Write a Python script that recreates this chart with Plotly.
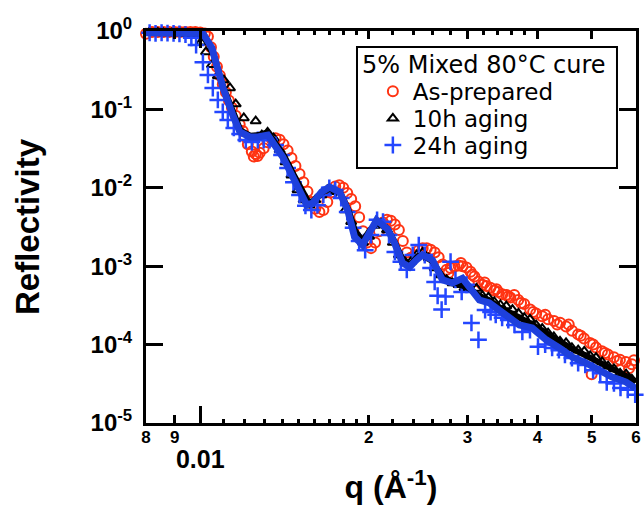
import math
import plotly.graph_objects as go

# ---------------- data ----------------
q_red = [0.0080, 0.0082, 0.0084, 0.0086, 0.0088, 0.0090, 0.0092, 0.0094, 0.0096, 0.0098, 0.0100,
         0.01019, 0.01032, 0.01045, 0.01057, 0.01071, 0.01084, 0.01097, 0.01111, 0.01125, 0.01139,
         0.01157, 0.01176, 0.01191, 0.01201, 0.01216, 0.01236, 0.01256, 0.01277, 0.01298, 0.01319,
         0.01341, 0.01363, 0.01386, 0.01408, 0.01432, 0.01455, 0.01479, 0.01504, 0.01528, 0.01554,
         0.01579, 0.01605, 0.01632, 0.01659, 0.01686, 0.01714, 0.01742, 0.01771, 0.01800, 0.01830,
         0.01860, 0.01891, 0.01922, 0.01953, 0.01986, 0.02018, 0.02052, 0.02085, 0.02120, 0.02155,
         0.02190, 0.02226, 0.02263, 0.02300, 0.02338, 0.02377, 0.02416, 0.02456, 0.02496, 0.02538,
         0.02579, 0.02622, 0.02665, 0.02709, 0.02754, 0.02799, 0.02845, 0.02892, 0.02940, 0.02988,
         0.03038, 0.03088, 0.03139, 0.03191, 0.03243, 0.03297, 0.03351, 0.03406, 0.03462, 0.03520,
         0.03578, 0.03637, 0.03697, 0.03789, 0.03883, 0.03980, 0.04079, 0.04180, 0.04284, 0.04391,
         0.04501, 0.04613, 0.04728, 0.04845, 0.04966, 0.05090, 0.05216, 0.05346, 0.05479, 0.05616,
         0.05756, 0.05899,
         0.01246, 0.01266, 0.02775, 0.0292, 0.0306, 0.0322, 0.0338, 0.0355, 0.0374, 0.0393, 0.0413, 0.0434,
         0.0455, 0.0478, 0.0500, 0.0503, 0.0528, 0.0555, 0.0583, 0.0595]
r_red = [0.92, 0.97, 0.97, 0.97, 0.97, 0.97, 0.97, 0.97, 0.97, 0.97, 0.96,
         0.93, 0.85, 0.62, 0.47, 0.35, 0.27, 0.21, 0.165, 0.13, 0.105,
         0.083, 0.064, 0.053, 0.045, 0.036, 0.029, 0.027, 0.028, 0.032, 0.038,
         0.042, 0.043, 0.041, 0.036, 0.030, 0.024, 0.019, 0.015, 0.0118, 0.0090,
         0.0066, 0.0054, 0.0049, 0.0052, 0.0066, 0.0088, 0.0104, 0.0108, 0.0100, 0.0086,
         0.0072, 0.0058, 0.0042, 0.0028, 0.0020, 0.0017, 0.0020, 0.0028, 0.0036, 0.0039,
         0.0038, 0.0034, 0.0029, 0.0021, 0.0015, 0.00128, 0.00138, 0.0016, 0.0017, 0.0017,
         0.00162, 0.0015, 0.0013, 0.00105, 0.0009, 0.00095, 0.00099, 0.00102, 0.00100, 0.00096,
         0.00085, 0.00074, 0.00064, 0.00058, 0.00056, 0.00053, 0.00049, 0.00047, 0.00044, 0.00043,
         0.00040, 0.00043, 0.00037, 0.00033, 0.00028, 0.00025, 0.00023, 0.00021, 0.00020, 0.00019,
         0.00017, 0.00015, 0.000135, 0.00012, 0.000105, 9.2e-5, 8.2e-5, 7.5e-5, 6.9e-5, 6.4e-5,
         6.0e-5, 5.6e-5,
         0.025, 0.0255, 0.00082, 0.0011, 0.00078, 0.00062, 0.00051, 0.00041, 0.00034, 0.00026, 0.00024, 0.00018,
         0.00018, 0.00013, 4.2e-5, 0.00010, 7.8e-5, 6.2e-5, 5.0e-5, 6.3e-5]

q_10h = [0.0081, 0.0084, 0.0086, 0.0089, 0.0092, 0.0094, 0.0097, 0.01003, 0.01024, 0.01049,
         0.01075, 0.01102, 0.0113, 0.01157, 0.01196, 0.01256, 0.01288, 0.01319, 0.01352, 0.01386,
         0.0142, 0.01455, 0.01492, 0.0153, 0.01567, 0.01605, 0.01646, 0.01686, 0.01728, 0.01771,
         0.01815, 0.0186, 0.01907, 0.01953, 0.02002, 0.02052, 0.02103, 0.02155, 0.02208, 0.02263,
         0.0232, 0.02377, 0.02436, 0.02496, 0.02559, 0.02622, 0.02687, 0.02754, 0.02822, 0.02892,
         0.02964, 0.03038, 0.03113, 0.03191, 0.0327, 0.0335, 0.03435, 0.0352, 0.0361, 0.037,
         0.0379, 0.0388, 0.0398, 0.0408, 0.0418, 0.0428, 0.0439, 0.045, 0.0461, 0.0473,
         0.0485, 0.0497, 0.0509, 0.0522, 0.0535, 0.0548, 0.0562, 0.0576, 0.059]
r_10h = [0.95, 0.95, 0.94, 0.94, 0.94, 0.93, 0.92, 0.72, 0.54, 0.37,
         0.267, 0.237, 0.1875, 0.117, 0.0777, 0.071, 0.047, 0.051, 0.043, 0.0303,
         0.0213, 0.0145, 0.0094, 0.0070, 0.0060, 0.0070, 0.0081, 0.0094, 0.0089, 0.0079,
         0.0052, 0.0037, 0.0025, 0.0020, 0.0024, 0.0033, 0.0035, 0.0029, 0.0020, 0.00139,
         0.00114, 0.00114, 0.00139, 0.0015, 0.00127, 0.00095, 0.00077, 0.00067, 0.00061, 0.00058,
         0.00053, 0.00050, 0.00052, 0.00042, 0.00040, 0.00035, 0.00032, 0.00031, 0.00028, 0.00025,
         0.00022, 0.00021, 0.000177, 0.00016, 0.00014, 0.000125, 0.00011, 0.000105, 9.1e-5, 8.5e-5,
         8.2e-5, 7.2e-5, 6.8e-5, 6.0e-5, 5.3e-5, 4.9e-5, 4.3e-5, 4.2e-5, 3.6e-5]

q_24h = [0.00812, 0.00832, 0.00853, 0.00874, 0.00896, 0.00918, 0.00941, 0.00964, 0.00983, 0.01011,
         0.01032, 0.01053, 0.01075, 0.01097, 0.0112, 0.01148, 0.01176, 0.01206, 0.01236, 0.01267,
         0.01298, 0.0133, 0.01363, 0.01397, 0.01432, 0.01467, 0.01504, 0.01541, 0.01579, 0.01619,
         0.01659, 0.0170, 0.01742, 0.01785, 0.0183, 0.01875, 0.01922, 0.0197, 0.02018, 0.02069,
         0.0212, 0.02173, 0.02226, 0.02282, 0.02338, 0.02396, 0.02456, 0.02517, 0.02579, 0.02622,
         0.02654, 0.02698, 0.02742, 0.02799, 0.02856, 0.0293, 0.02988, 0.0305, 0.03139, 0.03226,
         0.0330, 0.0337, 0.0346, 0.03549, 0.0364, 0.0376, 0.0388, 0.0401, 0.0413, 0.0425,
         0.0437, 0.0448, 0.0461, 0.0473, 0.0487, 0.0503, 0.0518, 0.0532, 0.0548, 0.0563,
         0.0580, 0.0598]
r_24h = [0.95, 0.93, 0.95, 0.94, 0.93, 0.92, 0.90, 0.82, 0.663, 0.40,
         0.275, 0.1875, 0.132, 0.0927, 0.0733, 0.058, 0.0486, 0.0407, 0.0384, 0.0407,
         0.0407, 0.0407, 0.0352, 0.0262, 0.0179, 0.0118, 0.0081, 0.0059, 0.0052, 0.0060,
         0.0081, 0.0100, 0.0094, 0.0074, 0.0049, 0.0031, 0.0021, 0.0016, 0.0025, 0.0039,
         0.0037, 0.0025, 0.00152, 0.00114, 0.0009, 0.00139, 0.00186, 0.00139, 0.00095, 0.00063,
         0.00042, 0.00028, 0.00041, 0.00114, 0.00067, 0.00047, 0.00058, 0.000189, 0.000115, 0.000276,
         0.00026, 0.00024, 0.00022, 0.000206, 0.000178, 0.000145, 0.000153, 9.4e-5, 0.00010, 9.06e-5,
         8.5e-5, 7.4e-5, 6.75e-5, 5.8e-5, 5.5e-5, 4.7e-5, 4.3e-5, 3.3e-5, 3.2e-5, 2.8e-5,
         2.65e-5, 2.3e-5]

q_fit_10h = [0.0080, 0.0100, 0.01015, 0.0105, 0.0110, 0.01145, 0.0118, 0.0123, 0.0127, 0.0132,
             0.0135, 0.0141, 0.0147, 0.0152, 0.0156, 0.0160, 0.0165, 0.0171, 0.0178, 0.0184,
             0.0189, 0.0195, 0.0201, 0.0207, 0.0216, 0.0222, 0.0230, 0.0237, 0.0245, 0.0250,
             0.0260, 0.0271, 0.0282, 0.0292, 0.0302, 0.0315, 0.0328, 0.0342, 0.0357, 0.0372,
             0.0392, 0.0415, 0.0438, 0.0462, 0.0489, 0.0516, 0.0544, 0.0576, 0.0600]
r_fit_10h = [0.95, 0.95, 0.90, 0.58, 0.19, 0.088, 0.054, 0.046, 0.047, 0.051,
             0.041, 0.026, 0.0145, 0.0088, 0.0066, 0.0068, 0.0088, 0.0098, 0.0086, 0.0052,
             0.0028, 0.0021, 0.0029, 0.0036, 0.0030, 0.0021, 0.0012, 0.00105, 0.00135, 0.00138,
             0.00115, 0.00072, 0.00063, 0.00058, 0.00052, 0.00042, 0.00037, 0.00030, 0.00026, 0.00022,
             0.00018, 0.00014, 0.00011, 8.8e-5, 7.2e-5, 6.0e-5, 4.8e-5, 4.0e-5, 3.4e-5]

q_fit_24h = [0.0080, 0.0100, 0.01011, 0.01049, 0.01098, 0.01143, 0.01177, 0.01226, 0.01267, 0.01320,
             0.01348, 0.01404, 0.01463, 0.01518, 0.01549, 0.01588, 0.01647, 0.01702, 0.01774, 0.01833,
             0.01886, 0.01949, 0.0201, 0.02065, 0.0216, 0.02223, 0.02297, 0.02364, 0.0243, 0.02493,
             0.02598, 0.02707, 0.0282, 0.02939, 0.03024, 0.03151, 0.03283, 0.0342, 0.03564, 0.03714,
             0.03916, 0.04148, 0.04377, 0.04615, 0.04888, 0.05159, 0.05438, 0.0576, 0.0598]
r_fit_24h = [0.95, 0.95, 0.93, 0.607, 0.1875, 0.0848, 0.0515, 0.0445, 0.0445, 0.0471,
             0.0384, 0.0247, 0.01374, 0.00859, 0.00604, 0.0064, 0.00884, 0.01023, 0.00884, 0.00521,
             0.00236, 0.00186, 0.0029, 0.00388, 0.00298, 0.00198, 0.0011, 0.000977, 0.0012, 0.00139,
             0.0012, 0.00067, 0.00061, 0.0007, 0.00054, 0.00037, 0.00034, 0.000276, 0.00021, 0.000178,
             0.000163, 0.000115, 9.05e-5, 6.95e-5, 5.82e-5, 4.74e-5, 3.86e-5, 3.33e-5, 2.79e-5]

x_major = [0.008, 0.009, 0.02, 0.03, 0.04, 0.05, 0.06]
x_major_labels = ["8", "9", "2", "3", "4", "5", "6"]
x_decade = [0.01]
x_decade_labels = ["0.01"]
x_minor = [0.011, 0.012, 0.013, 0.014, 0.015, 0.016, 0.017, 0.018, 0.019,
           0.022, 0.024, 0.026, 0.028, 0.032, 0.034, 0.036, 0.038]
y_ticks = [1e-5, 1e-4, 1e-3, 1e-2, 1e-1, 1e0]
y_tick_labels = ["10<sup>-5</sup>", "10<sup>-4</sup>", "10<sup>-3</sup>",
                 "10<sup>-2</sup>", "10<sup>-1</sup>", "10<sup>0</sup>"]
series_names = ["As-prepared", "10h aging", "24h aging"]
legend_title = "5% Mixed 80°C cure"

RED = "#ff3312"
BLUE_M = "#2447ff"
BLUE_L = "#1e40dc"
FONT = "Liberation Sans, Arial, Helvetica, sans-serif"
LEG_FONT = "DejaVu Sans, Liberation Sans, Arial, sans-serif"

fig = go.Figure()
fig.add_trace(go.Scatter(x=q_red, y=r_red, mode="markers", name=series_names[0],
                         marker=dict(symbol="circle-open", size=10, color=RED, line=dict(width=2, color=RED)),
                         cliponaxis=False, legend="legend"))
fig.add_trace(go.Scatter(x=q_10h, y=r_10h, mode="markers", name=series_names[1],
                         marker=dict(symbol="triangle-up-open", size=9, color="black", line=dict(width=2, color="black")),
                         cliponaxis=False, legend="legend2"))
fig.add_trace(go.Scatter(x=q_24h, y=r_24h, mode="markers", name=series_names[2],
                         marker=dict(symbol="cross-thin-open", size=12, color=BLUE_M, line=dict(width=2.5, color=BLUE_M)),
                         cliponaxis=False, legend="legend3"))
fig.add_trace(go.Scatter(x=q_fit_10h, y=r_fit_10h, mode="lines", showlegend=False,
                         line=dict(color="black", width=6)))
fig.add_trace(go.Scatter(x=q_fit_24h, y=r_fit_24h, mode="lines", showlegend=False,
                         line=dict(color=BLUE_L, width=7), xaxis="x2"))

xr = [math.log10(0.008), math.log10(0.06)]
fig.update_layout(
    width=644, height=512,
    margin=dict(l=146, r=8, t=31, b=89, autoexpand=False),
    paper_bgcolor="white", plot_bgcolor="white",
    font=dict(family=FONT, color="black"),
    xaxis=dict(type="log", range=xr, tickmode="array", tickvals=x_major, ticktext=x_major_labels,
               ticks="inside", ticklen=8, tickwidth=3, tickcolor="black",
               showline=True, linewidth=3, linecolor="black", mirror="ticks",
               showgrid=False, zeroline=False, ticklabelstandoff=-3,
               tickfont=dict(size=17, weight="bold", family=FONT),
               minor=dict(tickvals=x_minor, ticks="inside", ticklen=4, tickwidth=2.5,
                          tickcolor="black", showgrid=False),
               title=dict(text="q (Å<sup>-1</sup>)", font=dict(size=32, weight="bold", family=FONT),
                          standoff=30)),
    xaxis2=dict(type="log", range=xr, overlaying="x", side="bottom", anchor="y",
                tickmode="array", tickvals=x_decade, ticktext=x_decade_labels,
                ticks="inside", ticklen=17, tickwidth=3, tickcolor="black",
                showline=True, linewidth=3, linecolor="black", mirror="ticks",
                showgrid=False, zeroline=False, ticklabelstandoff=12,
                tickfont=dict(size=25, weight="bold", family=FONT)),
    yaxis=dict(type="log", range=[-5, 0], tickmode="array", tickvals=y_ticks, ticktext=y_tick_labels,
               ticks="inside", ticklen=17, tickwidth=3, tickcolor="black",
               showline=True, linewidth=3, linecolor="black", mirror="ticks",
               showgrid=False, zeroline=False, ticklabelstandoff=6,
               tickfont=dict(size=24, weight="bold", family=FONT),
               title=dict(text="Reflectivity", font=dict(size=33, weight="bold", family=FONT),
                          standoff=42)),
)

leg_common = dict(xanchor="left", yanchor="middle", bgcolor="rgba(0,0,0,0)", borderwidth=0,
                  font=dict(size=23, family=LEG_FONT, color="black"))
fig.update_layout(
    legend=dict(x=0.463, y=0.846, **leg_common),
    legend2=dict(x=0.463, y=0.777, **leg_common),
    legend3=dict(x=0.463, y=0.709, **leg_common),
)

fig.add_shape(type="rect", xref="paper", yref="paper", x0=0.4306, x1=0.9612, y0=0.6505, y1=0.9592,
              line=dict(color="black", width=2), fillcolor="rgba(0,0,0,0)", layer="above")
fig.add_annotation(text=legend_title, xref="paper", yref="paper", x=0.4367, y=0.913,
                   xanchor="left", yanchor="middle", showarrow=False,
                   font=dict(size=24, family=LEG_FONT, color="black"))

fig.write_html("out.html")
